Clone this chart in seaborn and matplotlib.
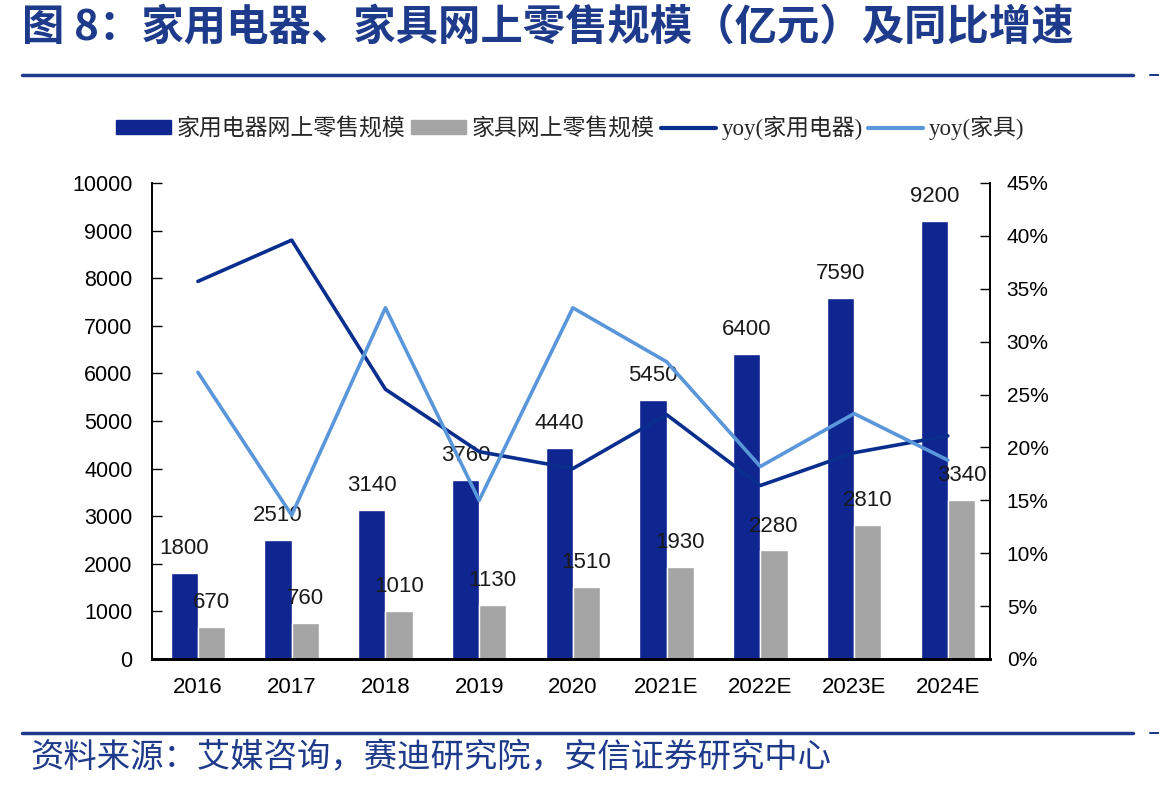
import matplotlib
matplotlib.use("Agg")
import matplotlib.pyplot as plt
from matplotlib.lines import Line2D
from matplotlib.patches import Patch
from matplotlib.ticker import PercentFormatter
import seaborn as sns
import pandas as pd
import numpy as np

# --- data ---
years = ['2016', '2017', '2018', '2019', '2020', '2021E', '2022E', '2023E', '2024E']
appliance_sales = [1800, 2510, 3140, 3760, 4440, 5450, 6400, 7590, 9200]
furniture_sales = [670, 760, 1010, 1130, 1510, 1930, 2280, 2810, 3340]
appliance_yoy = [0.357, 0.396, 0.255, 0.196, 0.180, 0.231, 0.164, 0.195, 0.211]
furniture_yoy = [0.271, 0.136, 0.332, 0.150, 0.332, 0.281, 0.182, 0.232, 0.188]

bar_names = ['家用电器网上零售规模', '家具网上零售规模']
line_names = ['yoy(家用电器)', 'yoy(家具)']

DARK = '#0F2590'
GRAY = '#A5A5A5'
LINE_DARK = '#0A2E8E'
LINE_LIGHT = '#5A96DA'
TITLE_BLUE = '#1E3A8A'

sns.set_theme(style="white")
plt.rcParams['font.family'] = ['Liberation Sans', 'Noto Sans CJK SC']

df_bars = pd.DataFrame({
    'year': years * 2,
    'value': appliance_sales + furniture_sales,
    'series': [bar_names[0]] * len(years) + [bar_names[1]] * len(years),
})
pos = np.arange(len(years))
df_yoy = pd.DataFrame({
    'pos': np.concatenate([pos, pos]),
    'yoy': appliance_yoy + furniture_yoy,
    'series': [line_names[0]] * len(years) + [line_names[1]] * len(years),
})

fig = plt.figure(figsize=(11.59, 7.90), dpi=100)
ax = fig.add_axes([152 / 1159, 131 / 790, 838 / 1159, 476 / 790])

sns.barplot(data=df_bars, x='year', y='value', hue='series', hue_order=bar_names,
            palette=[DARK, GRAY], width=0.58, saturation=1, legend=False, ax=ax)
for c in ax.containers:
    ax.bar_label(c, labels=[f"{int(v)}" for v in c.datavalues], padding=10,
                 fontsize=16, color='#1a1a1a')

ax2 = ax.twinx()
sns.lineplot(data=df_yoy, x='pos', y='yoy', hue='series', hue_order=line_names,
             palette=[LINE_DARK, LINE_LIGHT], linewidth=2.6, sort=False,
             legend=False, ax=ax2)

ax.set_xlim(-0.49, 8.45)
ax.set_ylim(0, 10000)
ax.set_yticks(np.arange(0, 10001, 1000))
ax2.set_ylim(0, 0.45)
ax2.set_yticks(np.arange(0, 0.451, 0.05))
ax2.yaxis.set_major_formatter(PercentFormatter(1.0, decimals=0))

for a in (ax, ax2):
    a.set_xlabel('')
    a.set_ylabel('')
    a.spines['top'].set_visible(False)
    for s in ('left', 'right', 'bottom'):
        a.spines[s].set_color('black')
        a.spines[s].set_linewidth(1.2)
ax.spines['bottom'].set_linewidth(2)
ax2.spines['bottom'].set_linewidth(2)

ax.tick_params(axis='y', direction='in', length=7, width=1, pad=14,
               labelsize=15.5, colors='black', left=True)
ax.tick_params(axis='x', length=0, pad=13, labelsize=16, colors='black')
ax2.tick_params(axis='y', direction='in', length=7, width=1, pad=12,
                labelsize=15, colors='black', right=True)

handles = [
    Patch(color=DARK, label=bar_names[0]),
    Patch(color=GRAY, label=bar_names[1]),
    Line2D([], [], color=LINE_DARK, lw=3, label=line_names[0]),
    Line2D([], [], color=LINE_LIGHT, lw=3, label=line_names[1]),
]
fig.legend(handles=handles, loc='center', bbox_to_anchor=(0.492, 0.838), ncol=4,
           frameon=False, handlelength=2.4, handleheight=0.55, handletextpad=0.25,
           columnspacing=0.25,
           prop={'family': ['Liberation Serif', 'Noto Sans CJK SC'], 'size': 16.5})

# title, rules and source
fig.text(22 / 1159, 1 - 28 / 790, '图 8：家用电器、家具网上零售规模（亿元）及同比增速',
         fontsize=30.5, fontweight='bold', color=TITLE_BLUE, va='center', ha='left',
         family=['Noto Sans CJK SC', 'DejaVu Sans'])
for y in (75, 733):
    fig.add_artist(Line2D([22 / 1159, 1133 / 1159], [1 - y / 790] * 2,
                          color=TITLE_BLUE, lw=2.5))
    fig.add_artist(Line2D([1150 / 1159, 1159 / 1159], [1 - y / 790] * 2,
                          color=TITLE_BLUE, lw=1.5))
fig.text(30 / 1159, 1 - 758 / 790, '资料来源：艾媒咨询，赛迪研究院，安信证券研究中心',
         fontsize=24, color=TITLE_BLUE, va='center', ha='left', style='italic',
         family=['Noto Sans CJK SC', 'DejaVu Sans'])

fig.savefig('out.png', dpi=100)
